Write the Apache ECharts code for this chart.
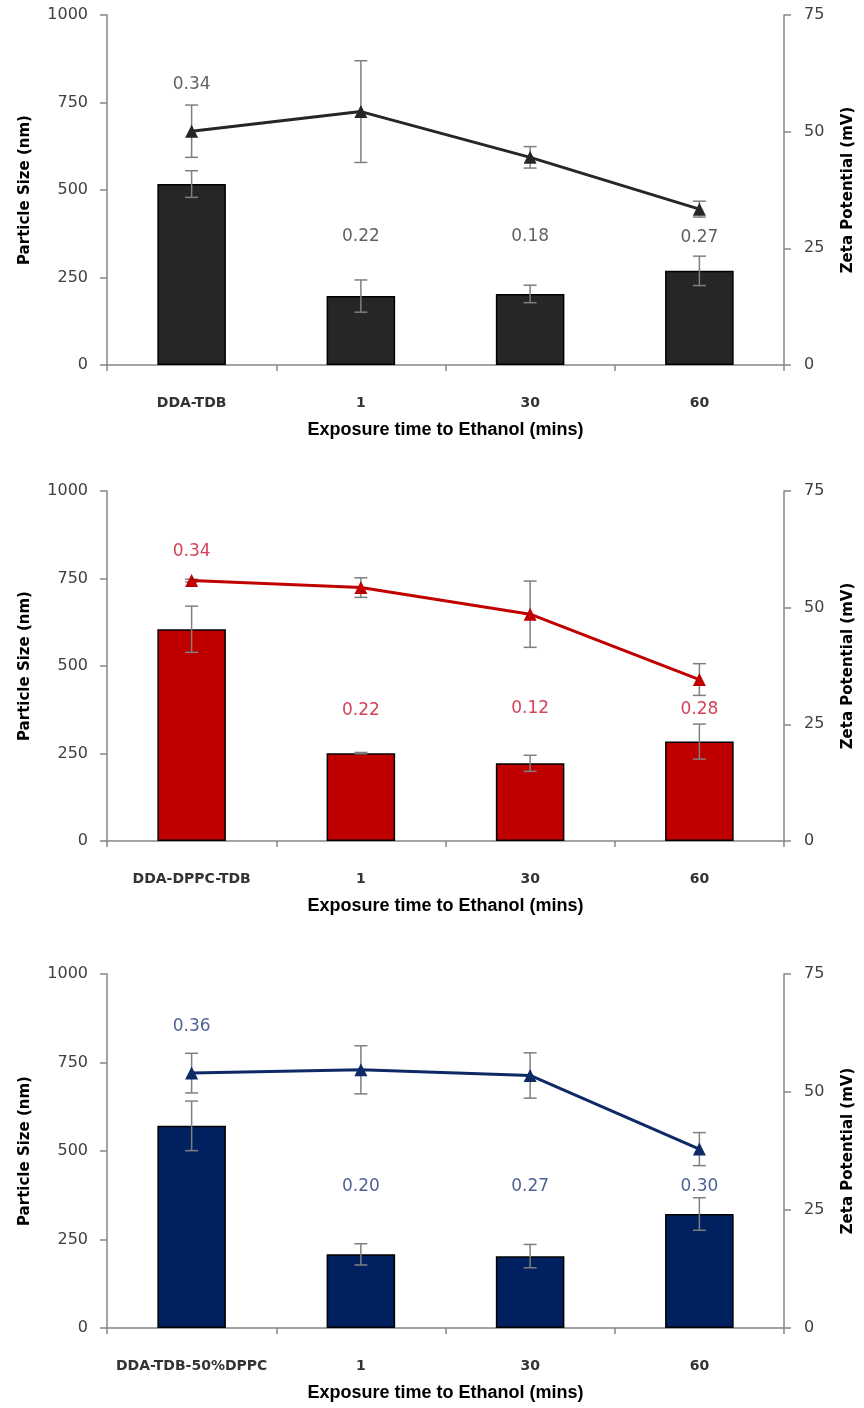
<!DOCTYPE html>
<html>
<head>
<meta charset="utf-8">
<script src="https://cdn.jsdelivr.net/npm/echarts@6/dist/echarts.min.js"></script>
<style>
  html, body { margin: 0; padding: 0; background: #ffffff; }
  #chart { width: 864px; height: 1408px; }
</style>
</head>
<body>
<div id="chart"></div>
<script>
// ---- Data: particle size (nm, bars), zeta potential (mV, line), PDI text ----
const catsTDB = ['DDA-TDB', '1', '30', '60'];
const catsDPPC = ['DDA-DPPC-TDB', '1', '30', '60'];
const catsHalf = ['DDA-TDB-50%DPPC', '1', '30', '60'];
const axisSizeTicks = [0, 250, 500, 750, 1000];
const axisZetaTicks = [0, 25, 50, 75];

const sizeTDB = [517, 197, 203, 269];
const sizeErrTDB = [38, 46, 25, 42];
const zetaTDB = [50.1, 54.3, 44.5, 33.4];
const zetaErrTDB = [5.6, 10.9, 2.3, 1.7];
const pdiTDB = ['0.34', '0.22', '0.18', '0.27'];
const pdiAtTDB = [800, 366, 366, 363];

const sizeDPPC = [605, 251, 222, 284];
const sizeErrDPPC = [66, 2, 23, 50];
const zetaDPPC = [55.8, 54.3, 48.6, 34.6];
const zetaErrDPPC = [0.3, 2.1, 7.1, 3.4];
const pdiDPPC = ['0.34', '0.22', '0.12', '0.28'];
const pdiAtDPPC = [827, 374, 379, 376];

const sizeHalf = [571, 208, 203, 322];
const sizeErrHalf = [70, 30, 33, 46];
const zetaHalf = [54.0, 54.7, 53.5, 37.9];
const zetaErrHalf = [4.2, 5.1, 4.8, 3.5];
const pdiHalf = ['0.36', '0.20', '0.27', '0.30'];
const pdiAtHalf = [851, 399, 399, 399];

// ---- Panel assembly ----
const panels = [
  { cats: catsTDB, size: sizeTDB, sizeErr: sizeErrTDB, zeta: zetaTDB, zetaErr: zetaErrTDB, pdi: pdiTDB, pdiAt: pdiAtTDB,
    fill: '#262626', lineColor: '#262626', textColor: '#3a3a3a',
    grid: { left: 107, top: 15, right: 76, height: 350 } },
  { cats: catsDPPC, size: sizeDPPC, sizeErr: sizeErrDPPC, zeta: zetaDPPC, zetaErr: zetaErrDPPC, pdi: pdiDPPC, pdiAt: pdiAtDPPC,
    fill: '#c00000', lineColor: '#c00000', textColor: '#c8102e',
    grid: { left: 107, top: 491, right: 77, height: 350 } },
  { cats: catsHalf, size: sizeHalf, sizeErr: sizeErrHalf, zeta: zetaHalf, zetaErr: zetaErrHalf, pdi: pdiHalf, pdiAt: pdiAtHalf,
    fill: '#002060', lineColor: '#0d2a66', textColor: '#203a78',
    grid: { left: 107, top: 974, right: 80, height: 354 } }
];

const AXIS_GRAY = '#868686';
const ERR_GRAY = '#7f7f7f';
const FONT = 'DejaVu Sans';

function errorBars(xIdx, yIdx, means, errs) {
  return {
    type: 'custom',
    xAxisIndex: xIdx,
    yAxisIndex: yIdx,
    silent: true,
    z: 4,
    data: means.map((m, i) => [i, m - errs[i], m + errs[i]]),
    encode: { x: 0, y: [1, 2] },
    renderItem: function (params, api) {
      const i = api.value(0);
      const lo = api.coord([i, api.value(1)]);
      const hi = api.coord([i, api.value(2)]);
      const cap = 6.5;
      const style = { stroke: ERR_GRAY, lineWidth: 1.5 };
      return {
        type: 'group',
        children: [
          { type: 'line', shape: { x1: lo[0], y1: lo[1], x2: hi[0], y2: hi[1] }, style: style },
          { type: 'line', shape: { x1: hi[0] - cap, y1: hi[1], x2: hi[0] + cap, y2: hi[1] }, style: style },
          { type: 'line', shape: { x1: lo[0] - cap, y1: lo[1], x2: lo[0] + cap, y2: lo[1] }, style: style }
        ]
      };
    }
  };
}

const grid = [], xAxis = [], yAxis = [], series = [];

panels.forEach((p, k) => {
  grid.push(Object.assign({ containLabel: false }, p.grid));

  xAxis.push({
    type: 'category',
    gridIndex: k,
    data: p.cats,
    boundaryGap: true,
    axisLine: { show: true, lineStyle: { color: AXIS_GRAY, width: 1.5 } },
    axisTick: { show: true, interval: 0, length: 6, lineStyle: { color: AXIS_GRAY, width: 1.5 } },
    axisLabel: { interval: 0, margin: 31, color: '#333333', fontFamily: FONT, fontWeight: 'bold', fontSize: 14 },
    name: 'Exposure time to Ethanol (mins)',
    nameLocation: 'middle',
    nameGap: 56,
    nameTextStyle: { color: '#000000', fontFamily: 'Liberation Sans', fontWeight: 'bold', fontSize: 18 },
    splitLine: { show: false }
  });

  yAxis.push({
    type: 'value',
    gridIndex: k,
    position: 'left',
    min: axisSizeTicks[0],
    max: axisSizeTicks[axisSizeTicks.length - 1],
    interval: axisSizeTicks[1] - axisSizeTicks[0],
    axisLine: { show: true, lineStyle: { color: AXIS_GRAY, width: 1.5 } },
    axisTick: { show: true, length: 7, lineStyle: { color: AXIS_GRAY, width: 1.5 } },
    axisLabel: { margin: 19, color: '#404040', fontFamily: FONT, fontSize: 16, formatter: (v) => String(v) },
    splitLine: { show: false },
    name: 'Particle Size (nm)',
    nameLocation: 'middle',
    nameRotate: 90,
    nameGap: 74,
    nameTextStyle: { color: '#000000', fontFamily: FONT, fontWeight: 'bold', fontSize: 15 }
  });

  yAxis.push({
    type: 'value',
    gridIndex: k,
    position: 'right',
    min: axisZetaTicks[0],
    max: axisZetaTicks[axisZetaTicks.length - 1],
    interval: axisZetaTicks[1] - axisZetaTicks[0],
    axisLine: { show: true, lineStyle: { color: AXIS_GRAY, width: 1.5 } },
    axisTick: { show: true, length: 7, lineStyle: { color: AXIS_GRAY, width: 1.5 } },
    axisLabel: { margin: 20, color: '#404040', fontFamily: FONT, fontSize: 16, formatter: (v) => String(v) },
    splitLine: { show: false },
    name: 'Zeta Potential (mV)',
    nameLocation: 'middle',
    nameRotate: 90,
    nameGap: 57,
    nameTextStyle: { color: '#000000', fontFamily: FONT, fontWeight: 'bold', fontSize: 15 }
  });

  const yL = 2 * k, yR = 2 * k + 1;

  series.push({
    type: 'bar',
    xAxisIndex: k,
    yAxisIndex: yL,
    data: p.size,
    barWidth: '40.5%',
    itemStyle: { color: p.fill, borderColor: '#000000', borderWidth: 1.5 },
    z: 2,
    silent: true
  });
  series.push(errorBars(k, yL, p.size, p.sizeErr));

  series.push(errorBars(k, yR, p.zeta, p.zetaErr));
  series.push({
    type: 'line',
    xAxisIndex: k,
    yAxisIndex: yR,
    data: p.zeta,
    symbol: 'triangle',
    symbolSize: 13,
    lineStyle: { color: p.lineColor, width: 3 },
    itemStyle: { color: p.lineColor },
    z: 5,
    silent: true
  });

  // PDI annotations
  series.push({
    type: 'scatter',
    xAxisIndex: k,
    yAxisIndex: yL,
    data: p.pdiAt.map((v, i) => [i, v]),
    symbolSize: 0,
    silent: true,
    z: 6,
    label: {
      show: true,
      position: 'inside',
      formatter: (prm) => p.pdi[prm.dataIndex],
      color: p.textColor,
      fontFamily: FONT,
      fontSize: 17
    }
  });
});

const chart = echarts.init(document.getElementById('chart'), null, { renderer: 'canvas' });
chart.setOption({
  animation: false,
  backgroundColor: '#ffffff',
  grid: grid,
  xAxis: xAxis,
  yAxis: yAxis,
  series: series
});
</script>
</body>
</html>
